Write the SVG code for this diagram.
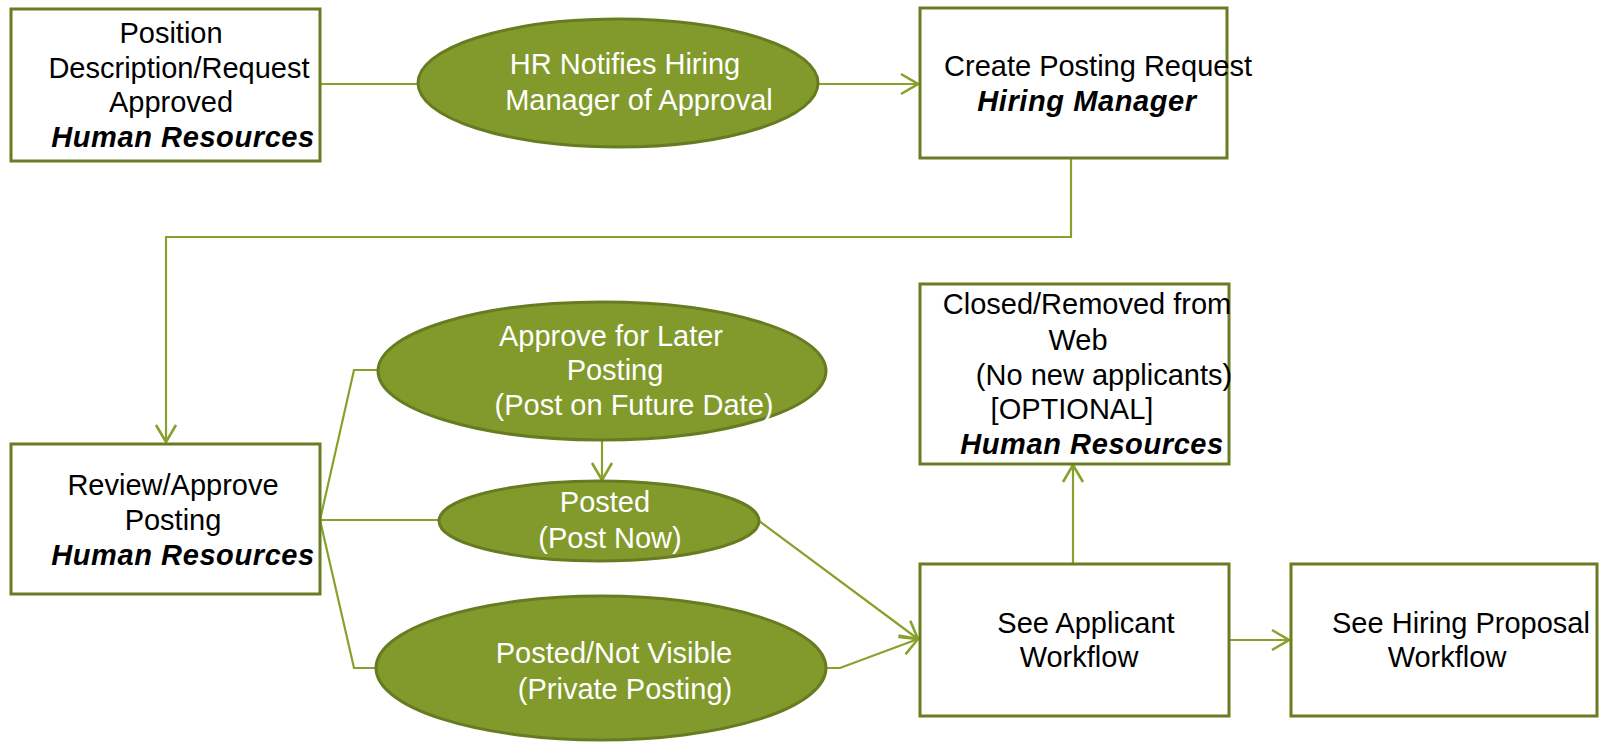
<svg xmlns="http://www.w3.org/2000/svg" width="1599" height="742" viewBox="0 0 1599 742">
  <style>
    .box { fill: #ffffff; stroke: #687d22; stroke-width: 3; }
    .oval { fill: #829a2c; stroke: #677c20; stroke-width: 3; }
    .wire { fill: none; stroke: #86a22c; stroke-width: 2.2; }
    text { font-family: "Liberation Sans", Arial, sans-serif; font-size: 29px; text-anchor: middle; }
    .dark { fill: #000000; }
    .light { fill: #ffffff; }
    .role { font-weight: bold; font-style: italic; letter-spacing: 0.6px; }
  </style>
  <defs>
    <marker id="chev" viewBox="0 0 20 24" refX="19" refY="12" markerWidth="20" markerHeight="24" markerUnits="userSpaceOnUse" orient="auto">
      <path d="M2,2 L19,12 L2,22" fill="none" stroke="#86a22c" stroke-width="2.6"/>
    </marker>
  </defs>

  <g id="connectors">
    <line class="wire" x1="320" y1="84" x2="418" y2="84"/>
    <line class="wire" x1="818" y1="84" x2="918" y2="84" marker-end="url(#chev)"/>
    <polyline class="wire" points="1071,158 1071,237 166,237 166,442" marker-end="url(#chev)"/>
    <polyline class="wire" points="320,520 354,370 378,370"/>
    <line class="wire" x1="320" y1="520" x2="439" y2="520"/>
    <polyline class="wire" points="320,520 354,668 376,668"/>
    <line class="wire" x1="602" y1="440" x2="602" y2="480" marker-end="url(#chev)"/>
    <line class="wire" x1="759" y1="521" x2="918" y2="639" marker-end="url(#chev)"/>
    <polyline class="wire" points="826,668 840,668 918,639" marker-end="url(#chev)"/>
    <line class="wire" x1="1229" y1="640" x2="1289" y2="640" marker-end="url(#chev)"/>
    <line class="wire" x1="1073" y1="564" x2="1073" y2="465" marker-end="url(#chev)"/>
  </g>

  <g id="position-approved">
    <rect class="box" x="11" y="9" width="309" height="152"/>
    <text class="dark" x="171" y="43">Position</text>
    <text class="dark" x="179" y="78">Description/Request</text>
    <text class="dark" x="171" y="112">Approved</text>
    <text class="dark role" x="183" y="147">Human Resources</text>
  </g>

  <g id="hr-notifies">
    <ellipse class="oval" cx="618" cy="83" rx="200" ry="64"/>
    <text class="light" x="625" y="74">HR Notifies Hiring</text>
    <text class="light" x="639" y="110">Manager of Approval</text>
  </g>

  <g id="create-request">
    <rect class="box" x="920" y="8" width="307" height="150"/>
    <text class="dark" x="1098" y="76">Create Posting Request</text>
    <text class="dark role" x="1087" y="111">Hiring Manager</text>
  </g>

  <g id="review-approve">
    <rect class="box" x="11" y="444" width="309" height="150"/>
    <text class="dark" x="173" y="495">Review/Approve</text>
    <text class="dark" x="173" y="530">Posting</text>
    <text class="dark role" x="183" y="565">Human Resources</text>
  </g>

  <g id="approve-later">
    <ellipse class="oval" cx="602" cy="371" rx="224" ry="69"/>
    <text class="light" x="611" y="346">Approve for Later</text>
    <text class="light" x="615" y="380">Posting</text>
    <text class="light" x="634" y="415">(Post on Future Date)</text>
  </g>

  <g id="posted-now">
    <ellipse class="oval" cx="599" cy="521" rx="160" ry="40"/>
    <text class="light" x="605" y="512">Posted</text>
    <text class="light" x="610" y="548">(Post Now)</text>
  </g>

  <g id="posted-private">
    <ellipse class="oval" cx="601" cy="668" rx="225" ry="72"/>
    <text class="light" x="614" y="663">Posted/Not Visible</text>
    <text class="light" x="625" y="699">(Private Posting)</text>
  </g>

  <g id="closed-removed">
    <rect class="box" x="920" y="284" width="309" height="180"/>
    <text class="dark" x="1087" y="314">Closed/Removed from</text>
    <text class="dark" x="1078" y="350">Web</text>
    <text class="dark" x="1104" y="385">(No new applicants)</text>
    <text class="dark" x="1072" y="419">[OPTIONAL]</text>
    <text class="dark role" x="1092" y="454">Human Resources</text>
  </g>

  <g id="applicant-workflow">
    <rect class="box" x="920" y="564" width="309" height="152"/>
    <text class="dark" x="1086" y="633">See Applicant</text>
    <text class="dark" x="1079" y="667">Workflow</text>
  </g>

  <g id="hiring-proposal">
    <rect class="box" x="1291" y="564" width="306" height="152"/>
    <text class="dark" x="1461" y="633">See Hiring Proposal</text>
    <text class="dark" x="1447" y="667">Workflow</text>
  </g>
</svg>
